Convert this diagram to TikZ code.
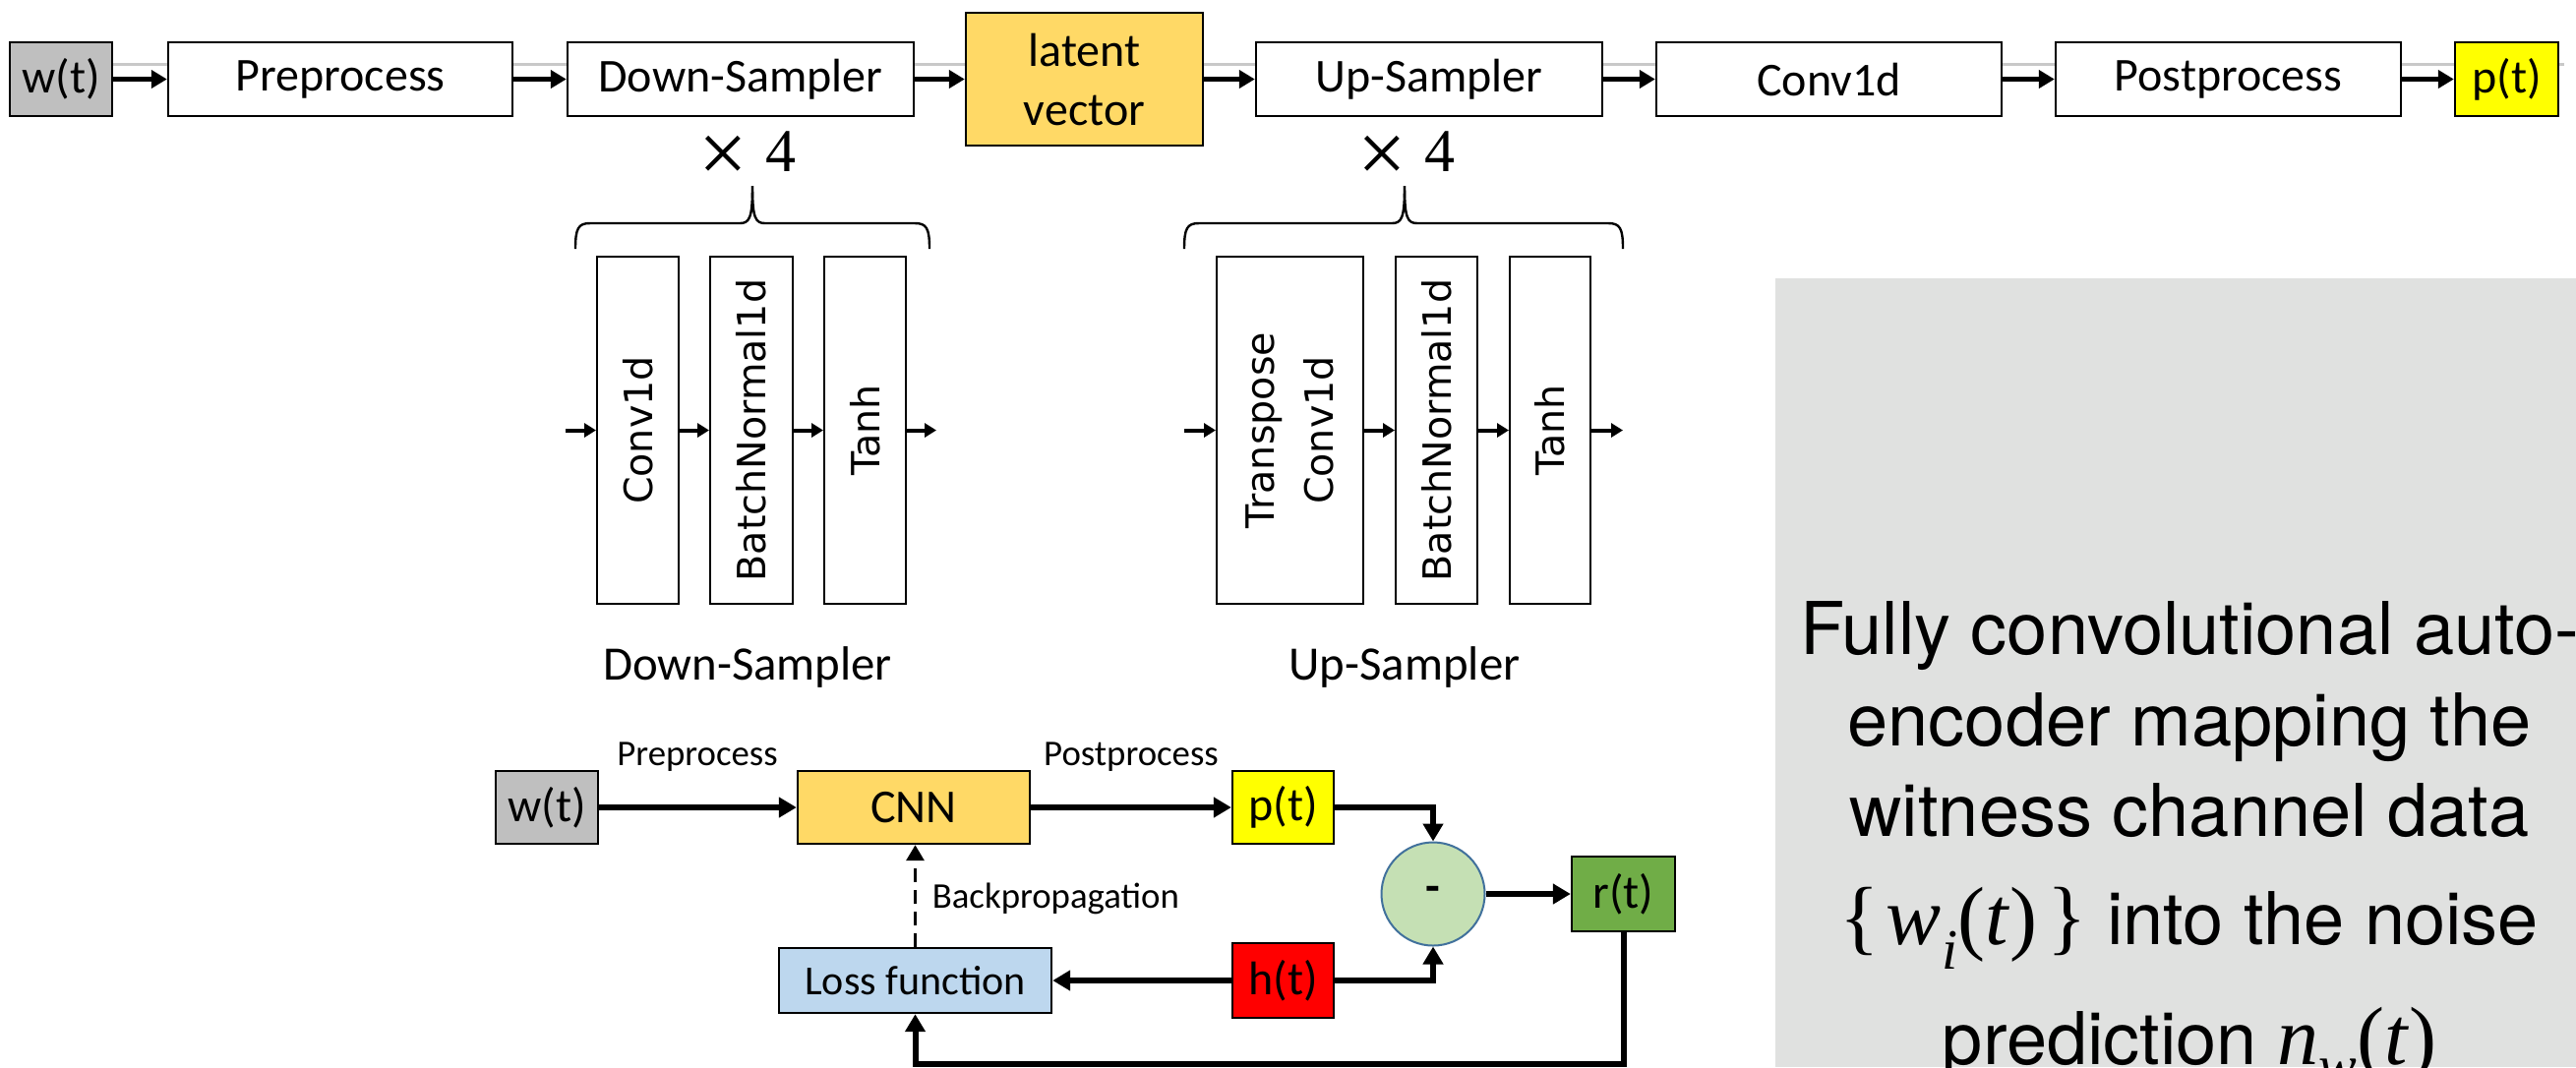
\documentclass[tikz,border=0pt]{standalone}
\usepackage{fontspec}
\setmainfont{Carlito}
\newfontfamily\vfont{DejaVu Sans}
\newfontfamily\hfont{TeX Gyre Heros}
\newfontfamily\tfont{Liberation Serif}
\usetikzlibrary{arrows.meta}
\definecolor{wgray}{HTML}{BFBFBF}
\definecolor{gold}{HTML}{FFD966}
\definecolor{pyel}{HTML}{FFFF00}
\definecolor{hred}{HTML}{FF0000}
\definecolor{rgreen}{HTML}{70AD47}
\definecolor{lblue}{HTML}{BDD7EE}
\definecolor{cgreen}{HTML}{C5E0B4}
\definecolor{cedge}{HTML}{41719C}
\definecolor{panel}{HTML}{E0E1E0}
\definecolor{gline}{HTML}{C8C8C8}
\newcommand{\bigtimes}{{\fontsize{22}{22}\selectfont\raisebox{-2.8pt}{×}}}
\begin{document}
\begin{tikzpicture}[x=0.25pt,y=-0.25pt,
  box/.style={draw=black,line width=0.6pt,fill=white,inner sep=0pt,font=\fontsize{12}{15}\selectfont,align=center},
  topbox/.style={box,minimum height=18.75pt},
  botbox/.style={box,minimum height=18.75pt},
  vbox/.style={draw=black,line width=0.5pt,fill=white,inner sep=0pt,rotate=90,minimum width=88.25pt,font=\vfont\fontsize{9.9}{15}\selectfont,align=center},
  bigarrow/.style={line width=1.25pt,-{Triangle[length=4pt,width=4.5pt]}},
  smallarrow/.style={line width=1pt,-{Triangle[length=3pt,width=3.5pt]}},
  looparrow/.style={line width=1.5pt,-{Triangle[length=4.5pt,width=5pt]}},
  backarrow/.style={line width=0.8pt,dash pattern=on 3.5pt off 2pt,-{Triangle[length=4pt,width=4.5pt]}},
  bracepath/.style={line width=0.6pt},
  lbl/.style={font=\fontsize{9.2}{11}\selectfont,inner sep=0pt},
  sublbl/.style={font=\fontsize{12.2}{14}\selectfont,inner sep=0pt},
  times/.style={font=\tfont\fontsize{15.5}{15.5}\selectfont,inner sep=0pt,anchor=base},
]
\useasboundingbox (0,0) rectangle (2619,1085);
\clip (0,0) rectangle (2619,1085);

% right panel
\fill[panel] (1805,283) rectangle (2619,1085);
\node[font=\hfont\fontsize{18.5}{23.1}\selectfont, align=center, anchor=north, inner sep=0pt] (desc) at (2226,611)
 {Fully convolutional auto-\\encoder mapping the\\witness channel data\\[4.3pt]
  {\tfont\fontsize{21}{21}\selectfont\{\kern0.08em\textit{w}\raisebox{-0.3em}{\fontsize{14.5}{14.5}\selectfont\textit{i}}(\textit{t})\kern0.12em\}} into the noise\\[7.5pt]
  prediction {\tfont\fontsize{21}{21}\selectfont\textit{n}\raisebox{-0.25em}{\fontsize{14.5}{14.5}\selectfont\textit{w}}(\textit{t})}};

% faint line behind top row
\draw[gline,line width=0.75pt] (114,65) -- (2607,65);

% top row
\node[topbox,fill=wgray,minimum width=26pt] (wt) at (62,80.5) {w(t)};
\node[topbox,minimum width=87.5pt] (pre) at (346,80.5) {Preprocess};
\node[topbox,minimum width=88pt] (ds) at (753,80.5) {Down-Sampler};
\node[box,fill=gold,minimum width=60.25pt,minimum height=33.75pt] (lat) at (1102.5,80.5) {latent\\vector};
\node[topbox,minimum width=88pt] (us) at (1453,80.5) {Up-Sampler};
\node[topbox,minimum width=87.75pt] (cv) at (1859.5,80.5) {Conv1d};
\node[topbox,minimum width=87.75pt] (post) at (2265.5,80.5) {Postprocess};
\node[topbox,fill=pyel,minimum width=26.25pt] (pt) at (2548.5,80.5) {p(t)};
\draw[bigarrow] (wt) -- (pre);
\draw[bigarrow] (pre) -- (ds);
\draw[bigarrow] (ds) -- (lat);
\draw[bigarrow] (lat) -- (us);
\draw[bigarrow] (us) -- (cv);
\draw[bigarrow] (cv) -- (post);
\draw[bigarrow] (post) -- (pt);

% x4 and braces
\node[times] (x4a) at (760,174) {\bigtimes\kern0.3em 4};
\node[times] (x4b) at (1430,174) {\bigtimes\kern0.3em 4};
\draw[bracepath] (585,253) .. controls (585,232) and (588,227) .. (600,227) -- (752,227)
  .. controls (762,227) and (765,222) .. (765,189);
\draw[bracepath] (945,253) .. controls (945,232) and (942,227) .. (930,227) -- (778,227)
  .. controls (768,227) and (765,222) .. (765,189);
\draw[bracepath] (1204,253) .. controls (1204,232) and (1207,227) .. (1219,227) -- (1415,227)
  .. controls (1425,227) and (1428,222) .. (1428,189);
\draw[bracepath] (1650,253) .. controls (1650,232) and (1647,227) .. (1635,227) -- (1441,227)
  .. controls (1431,227) and (1428,222) .. (1428,189);

% down-sampler detail
\node[vbox,minimum height=20.75pt] (dc) at (648.5,437.5) {Conv1d};
\node[vbox,minimum height=21pt] (db) at (764,437.5) {BatchNormal1d};
\node[vbox,minimum height=20.75pt] (dt) at (879.5,437.5) {Tanh};
\coordinate (din) at (575,437.5);
\coordinate (dout) at (952,437.5);
\draw[smallarrow] (din) -- (dc);
\draw[smallarrow] (dc) -- (db);
\draw[smallarrow] (db) -- (dt);
\draw[smallarrow] (dt) -- (dout);
\node[sublbl] (dlbl) at (760,678) {Down-Sampler};

% up-sampler detail
\node[vbox,minimum height=37.25pt] (uc) at (1311.5,437.5) {Transpose\\Conv1d};
\node[vbox,minimum height=20.75pt] (ub) at (1460.5,437.5) {BatchNormal1d};
\node[vbox,minimum height=20.5pt] (ut) at (1576,437.5) {Tanh};
\coordinate (uin) at (1204,437.5);
\coordinate (uout) at (1650,437.5);
\draw[smallarrow] (uin) -- (uc);
\draw[smallarrow] (uc) -- (ub);
\draw[smallarrow] (ub) -- (ut);
\draw[smallarrow] (ut) -- (uout);
\node[sublbl] (ulbl) at (1428,678) {Up-Sampler};

% bottom training loop
\node[botbox,fill=wgray,minimum width=26pt,minimum height=18.5pt] (bw) at (556,821) {w(t)};
\node[botbox,fill=gold,minimum width=59pt,minimum height=18.5pt] (cnn) at (929,821) {CNN};
\node[botbox,fill=pyel,minimum width=25.75pt,minimum height=18.5pt] (bp) at (1304.5,821) {p(t)};
\node[circle,draw=cedge,line width=0.5pt,fill=cgreen,minimum size=26.25pt,inner sep=0pt,font=\bfseries\fontsize{12}{12}\selectfont] (minus) at (1457,909) {-};
\node[botbox,fill=rgreen,minimum width=26.25pt,minimum height=19pt] (br) at (1650.5,909) {r(t)};
\node[botbox,fill=hred,minimum width=25.75pt,minimum height=19pt] (bh) at (1304.5,997) {h(t)};
\node[box,fill=lblue,font=\fontsize{10.5}{12}\selectfont,minimum width=69.25pt,minimum height=16.5pt] (loss) at (930.5,997) {Loss function};
\draw[looparrow] (bw) -- (cnn);
\draw[looparrow] (cnn) -- (bp);
\draw[looparrow] (bp.east) -| (minus.north);
\draw[looparrow] (bh.east) -| (minus.south);
\draw[looparrow] (minus) -- (br);
\draw[looparrow] (bh) -- (loss);
\draw[looparrow] (br.south) -- ++(0,134) -| (loss.south);
\draw[backarrow] (loss.north) -- (loss.north |- cnn.south);
\node[lbl] (lpre) at (709,770) {Preprocess};
\node[lbl] (lpost) at (1150,770) {Postprocess};
\node[lbl,anchor=west] (lback) at (947,914) {Backpropagation};
\end{tikzpicture}
\end{document}
